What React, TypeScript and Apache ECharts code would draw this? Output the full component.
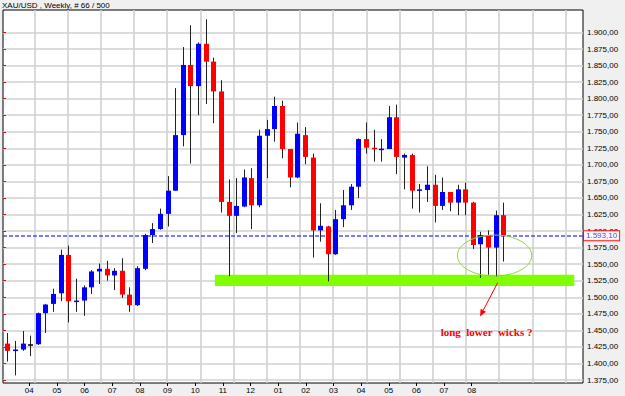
import React, { useEffect, useRef } from "react";
import * as echarts from "echarts";

// ---- data (weekly XAU/USD candles) ----
const opens = [1430, 1419, 1421, 1429, 1429, 1476, 1490, 1506, 1564, 1494, 1495, 1515, 1539, 1543, 1533, 1540, 1504, 1488, 1543, 1594, 1603, 1626, 1661, 1745, 1851, 1819, 1883, 1856, 1811, 1644, 1623, 1637, 1680, 1639, 1744, 1754, 1789, 1724, 1681, 1745, 1711, 1601, 1607, 1565, 1618, 1639, 1667, 1739, 1726, 1723.5, 1724, 1772, 1711, 1715, 1661, 1662, 1670, 1638, 1659, 1643, 1663, 1643, 1580, 1594, 1575, 1624];
const closes = [1419, 1421, 1430, 1429, 1476, 1489, 1505, 1564, 1494, 1495, 1515, 1539, 1543, 1533, 1540, 1504, 1488, 1544, 1594, 1603, 1626, 1661, 1745, 1851, 1819, 1883, 1856, 1811, 1644, 1623, 1638, 1681, 1639, 1744, 1754, 1789, 1724, 1681, 1747, 1712, 1601, 1608, 1565, 1618, 1639, 1667, 1739, 1726, 1724, 1724.5, 1772, 1712, 1715, 1661, 1663, 1670, 1638, 1659, 1643, 1663, 1643, 1579, 1594, 1575, 1624, 1593.1];
const lows = [1403, 1382, 1419, 1411, 1428, 1446, 1478, 1494, 1462, 1478, 1472, 1505, 1520, 1525, 1511, 1499, 1478, 1487, 1541, 1582, 1602, 1607, 1661, 1728, 1702, 1775, 1792, 1763, 1628, 1532, 1597, 1636, 1603, 1636, 1680, 1735, 1710, 1666, 1680, 1701, 1560, 1584, 1524, 1564, 1606, 1632, 1650, 1717, 1705, 1705, 1724, 1686, 1663, 1634, 1628, 1644, 1613, 1632, 1630, 1624, 1624, 1573, 1529, 1534, 1531, 1554];
const highs = [1446, 1434, 1449, 1442, 1477, 1490, 1513, 1572, 1578, 1528, 1518, 1541, 1551, 1555, 1544, 1559, 1515, 1547, 1596, 1612, 1634, 1683, 1816, 1878, 1911, 1885, 1920, 1862, 1828, 1678, 1680, 1693, 1695, 1753, 1768, 1803, 1797, 1724, 1764, 1757, 1717, 1642, 1608, 1632, 1662, 1671, 1740, 1764, 1753, 1739, 1789, 1791, 1717, 1717, 1671, 1698, 1685, 1681, 1659, 1670, 1673, 1644, 1599, 1601, 1631, 1643];

const monthLabels = ["04", "05", "06", "07", "08", "09", "10", "11", "12", "01", "02", "03", "04", "05", "06", "07", "08"];
const priceTickMin = 1375;
const priceTickMax = 1900;
const priceTickStep = 25;
const currentPrice = 1593.1;

// annotations (data coordinates: candle index, price)
const supportZoneX = [27.2, 74.3];
const supportZoneY = [1517, 1534];
const ellipseCenter = [63.85, 1563];
const ellipseRadius = [4.87, 31];
const arrowFrom = [64.26, 1522];
const arrowTo = [61.95, 1471];
const noteAt = [62.8, 1448];
const noteText = "long  lower  wicks ?";
const titleText = "XAU/USD , Weekly, # 66 / 500";

// ---- layout ----
const W = 625;
const H = 396;
const PLOT_L = 3;
const PLOT_R = 583;
const PLOT_T = 10;
const PLOT_B = 383;
const TICK_TOP_PX = 32.5; // pixel of priceTickMax
const TICK_BOT_PX = 380; // pixel of priceTickMin
const CANDLE0_PX = 7.3;
const CANDLE_STEP_PX = 7.631;
const VGRID0_PX = 34.3;
const VGRID_STEP_PX = 33.21;
const VGRID_COUNT = 16;
const XLABEL0_PX = 29.3;
const XLABEL_STEP_PX = 27.65;

const pxPerPrice = (TICK_BOT_PX - TICK_TOP_PX) / (priceTickMax - priceTickMin);
const yMax = priceTickMax + (TICK_TOP_PX - PLOT_T) / pxPerPrice;
const yMin = priceTickMin - (PLOT_B - TICK_BOT_PX) / pxPerPrice;
const xMin = -(CANDLE0_PX - PLOT_L) / CANDLE_STEP_PX;
const xMax = xMin + (PLOT_R - PLOT_L) / CANDLE_STEP_PX;

const FONT = "Liberation Sans";
const GRID_COLOR = "#d0d0d0";

function fmtPrice(v: number): string {
  const s = v.toFixed(2);
  const [intPart, dec] = s.split(".");
  const withSep = intPart.replace(/\B(?=(\d{3})+(?!\d))/g, ".");
  return withSep + "," + dec;
}

export default function App() {
  const ref = useRef<HTMLDivElement>(null);

  useEffect(() => {
    if (!ref.current) return;
    const chart = echarts.init(ref.current, undefined, { renderer: "svg" });

    const candleData = opens.map((o, i) => [i, o, closes[i], lows[i], highs[i]]);

    const option: any = {
      animation: false,
      backgroundColor: "#f0f0f0",
      grid: [
        {
          left: PLOT_L,
          right: W - PLOT_R,
          top: PLOT_T,
          bottom: H - PLOT_B,
          show: true,
          backgroundColor: "#ffffff",
          borderColor: "#000000",
          borderWidth: 1,
        },
        { left: PLOT_L, right: W - PLOT_R, top: TICK_TOP_PX, bottom: H - TICK_BOT_PX },
        {
          left: VGRID0_PX,
          right: W - (VGRID0_PX + VGRID_STEP_PX * VGRID_COUNT),
          top: PLOT_T,
          bottom: H - PLOT_B,
        },
        {
          left: XLABEL0_PX,
          right: W - (XLABEL0_PX + XLABEL_STEP_PX * (monthLabels.length - 1)),
          top: PLOT_T,
          bottom: H - PLOT_B,
        },
      ],
      xAxis: [
        { type: "value", gridIndex: 0, min: xMin, max: xMax, show: false },
        { type: "value", gridIndex: 1, min: 0, max: 1, show: false },
        {
          type: "value",
          gridIndex: 2,
          min: 0,
          max: VGRID_COUNT,
          interval: 1,
          axisLine: { show: false },
          axisTick: { show: false },
          axisLabel: { show: false },
          splitLine: { show: true, lineStyle: { color: GRID_COLOR, width: 1.6 } },
        },
        {
          type: "value",
          gridIndex: 3,
          position: "bottom",
          min: 0,
          max: monthLabels.length - 1,
          interval: 1,
          axisLine: { show: false },
          axisTick: { show: true, length: 3, lineStyle: { color: "#000" } },
          splitLine: { show: false },
          axisLabel: {
            show: true,
            margin: 3,
            fontSize: 8,
            fontFamily: FONT,
            color: "#000",
            showMinLabel: true,
            showMaxLabel: true,
            formatter: (v: number) => monthLabels[Math.round(v)] ?? "",
          },
        },
      ],
      yAxis: [
        { type: "value", gridIndex: 0, min: yMin, max: yMax, show: false },
        {
          type: "value",
          gridIndex: 1,
          position: "right",
          min: priceTickMin,
          max: priceTickMax,
          interval: priceTickStep,
          axisLine: { show: false },
          axisTick: { show: true, length: 3, lineStyle: { color: "#ff0000" } },
          splitLine: { show: true, lineStyle: { color: GRID_COLOR, width: 1.6 } },
          axisLabel: {
            show: true,
            margin: 4,
            fontSize: 8,
            fontFamily: FONT,
            color: "#000",
            showMinLabel: true,
            showMaxLabel: true,
            formatter: (v: number) => fmtPrice(v),
          },
        },
        { type: "value", gridIndex: 2, min: 0, max: 1, show: false },
        { type: "value", gridIndex: 3, min: 0, max: 1, show: false },
      ],
      series: [
        {
          type: "custom",
          xAxisIndex: 0,
          yAxisIndex: 0,
          clip: true,
          z: 5,
          encode: { x: 0, y: [1, 2, 3, 4] },
          data: candleData,
          renderItem: (params: any, api: any) => {
            const i = api.value(0);
            const o = api.value(1);
            const c = api.value(2);
            const l = api.value(3);
            const h = api.value(4);
            const pH = api.coord([i, h]);
            const pL = api.coord([i, l]);
            const pO = api.coord([i, o]);
            const pC = api.coord([i, c]);
            const color = c > o ? "#0000ff" : c < o ? "#ff0000" : "#000000";
            const xr = Math.round(pH[0]);
            const top = Math.min(pO[1], pC[1]);
            const bh = Math.max(Math.abs(pO[1] - pC[1]), 1.5);
            return {
              type: "group",
              children: [
                {
                  type: "line",
                  shape: { x1: xr + 0.5, y1: pH[1], x2: xr + 0.5, y2: pL[1] },
                  style: { stroke: "#222222", lineWidth: 1 },
                },
                {
                  type: "rect",
                  shape: { x: xr - 2, y: top, width: 5, height: bh },
                  style: { fill: color },
                },
              ],
            };
          },
          markArea: {
            silent: true,
            z: 1,
            itemStyle: { color: "#80ff00", opacity: 1 },
            data: [
              [
                { coord: [supportZoneX[0], supportZoneY[1]] },
                { coord: [supportZoneX[1], supportZoneY[0]] },
              ],
            ],
          },
          markLine: {
            silent: true,
            symbol: "none",
            lineStyle: { type: [4, 2], color: "#3c3cff", width: 1.5, opacity: 0.9 },
            label: {
              show: true,
              position: "end",
              distance: 1,
              formatter: () => fmtPrice(currentPrice),
              color: "#2a2aff",
              fontSize: 8,
              fontFamily: FONT,
              backgroundColor: "#ffffff",
              borderColor: "#ff0000",
              borderWidth: 1,
              padding: [1, 2, 0, 2],
            },
            data: [{ yAxis: currentPrice }],
          },
        },
      ],
    };

    chart.setOption(option);

    const px = (p: number[]) =>
      chart.convertToPixel({ xAxisIndex: 0, yAxisIndex: 0 }, p) as number[];

    const c = px(ellipseCenter);
    const e = px([ellipseCenter[0] + ellipseRadius[0], ellipseCenter[1] + ellipseRadius[1]]);
    const rx = Math.abs(e[0] - c[0]);
    const ry = Math.abs(e[1] - c[1]);

    const s = px(arrowFrom);
    const t = px(arrowTo);
    const dx = t[0] - s[0];
    const dy = t[1] - s[1];
    const len = Math.hypot(dx, dy) || 1;
    const ux = dx / len;
    const uy = dy / len;
    const headL = 7;
    const headW = 3;
    const bx = t[0] - ux * headL;
    const by = t[1] - uy * headL;
    const nx = -uy;
    const ny = ux;

    const n = px(noteAt);

    chart.setOption({
      graphic: [
        {
          type: "text",
          left: 2,
          top: 1,
          style: { text: titleText, fill: "#000", font: `8px "${FONT}"` },
        },
        {
          type: "ellipse",
          shape: { cx: c[0], cy: c[1], rx, ry },
          style: { fill: "none", stroke: "#8cd92a", lineWidth: 1 },
          z: 20,
        },
        {
          type: "line",
          shape: { x1: s[0], y1: s[1], x2: bx, y2: by },
          style: { stroke: "#ff0000", lineWidth: 1 },
          z: 20,
        },
        {
          type: "polygon",
          shape: {
            points: [
              [t[0], t[1]],
              [bx + nx * headW, by + ny * headW],
              [bx - nx * headW, by - ny * headW],
            ],
          },
          style: { fill: "#ff0000" },
          z: 20,
        },
        {
          type: "text",
          x: n[0],
          y: n[1],
          style: {
            text: noteText,
            fill: "#ff0000",
            font: `bold 11px "Liberation Serif"`,
            textAlign: "center",
            textVerticalAlign: "middle",
          },
          z: 20,
        },
      ],
    });

    return () => chart.dispose();
  }, []);

  return (
    <div
      ref={ref}
      style={{ position: "absolute", left: 0, top: 0, width: W, height: H }}
    />
  );
}
